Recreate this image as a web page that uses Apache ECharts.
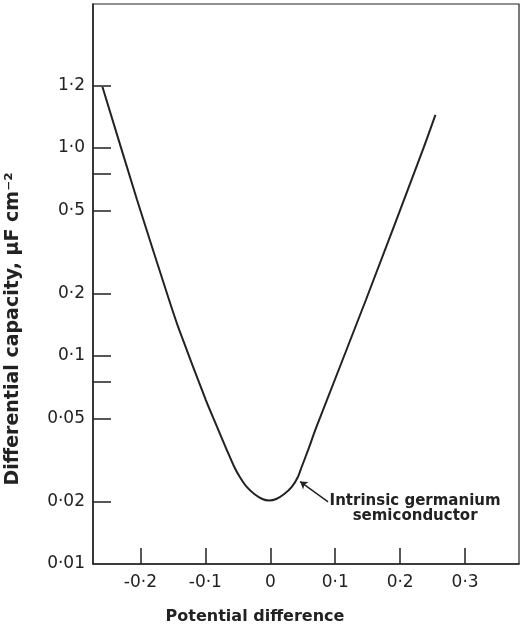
<!DOCTYPE html>
<html><head><meta charset="utf-8">
<script src="https://cdn.jsdelivr.net/npm/echarts@6/dist/echarts.min.js"></script>
<style>html,body{margin:0;padding:0;background:#fff}#c{width:522px;height:629px}</style>
</head><body><div id="c"></div>
<script>
// Data (potential difference, differential capacity µF cm^-2)
const potential = [-0.2585, -0.2051, -0.1558, -0.1402, -0.0992, -0.0831, -0.0669, -0.0554, -0.0469, -0.0362, -0.0246, -0.0123, -0.002, 0.0092, 0.0215, 0.0331, 0.0425, 0.0483, 0.0577, 0.0711, 0.1472, 0.2349, 0.2543];
const capacity  = [1.97, 0.562, 0.1858, 0.1334, 0.0614, 0.0465, 0.0353, 0.02926, 0.0262, 0.02346, 0.0217, 0.02053, 0.0202, 0.02053, 0.0217, 0.02346, 0.0262, 0.02926, 0.03494, 0.04557, 0.1858, 0.978, 1.441];
const xTicks = [-0.2, -0.1, 0, 0.1, 0.2, 0.3];
const xTickLabels = ['-0·2', '-0·1', '0', '0·1', '0·2', '0·3'];
const yTicks = [0.02, 0.05, 0.075, 0.1, 0.2, 0.5, 0.75, 1.0, 2.0];
const yLabelValues = [0.01, 0.02, 0.05, 0.1, 0.2, 0.5, 1.0, 2.0];
const yTickLabels = ['0·01', '0·02', '0·05', '0·1', '0·2', '0·5', '1·0', '1·2'];
const arrowFrom = [0.089, 0.0199];
const arrowTo = [0.046, 0.0249];
const noteAt = [0.223, 0.0185];
const noteText = 'Intrinsic germanium\nsemiconductor';

const ink = '#222';
const font = 'DejaVu Sans';
const chart = echarts.init(document.getElementById('c'));
function lab(v, vals, labels) {
  for (let i = 0; i < vals.length; i++) if (Math.abs(vals[i] - v) < 1e-6 * Math.max(1, Math.abs(v)) + 1e-9) return labels[i];
  return '';
}
chart.setOption({
  animation: false,
  grid: { left: 93, top: 4, right: 3, bottom: 65, outerBoundsMode: 'none', containLabel: false, show: true, borderColor: ink, borderWidth: 1.2 },
  xAxis: {
    type: 'value', min: -0.273, max: 0.383,
    splitLine: { show: false },
    axisLine: { onZero: false, lineStyle: { color: ink, width: 1.5 } },
    axisTick: { inside: true, length: 16, lineStyle: { color: ink, width: 1.5 }, customValues: xTicks },
    axisLabel: { customValues: xTicks, margin: 10, color: ink, fontFamily: font, fontSize: 17,
      formatter: v => lab(v, xTicks, xTickLabels) },
    name: 'Potential difference', nameLocation: 'middle', nameGap: 45,
    nameTextStyle: { color: ink, fontFamily: font, fontSize: 16, fontWeight: 'bold', padding: [0, 102, 0, 0] }
  },
  yAxis: {
    type: 'log', min: 0.01, max: 4.92, logBase: 10,
    splitLine: { show: false },
    axisLine: { onZero: false, lineStyle: { color: ink, width: 1.5 } },
    axisTick: { inside: true, length: 18, lineStyle: { color: ink, width: 1.5 }, customValues: yTicks },
    axisLabel: { customValues: yLabelValues, margin: 8, color: ink, fontFamily: font, fontSize: 17,
      formatter: v => lab(v, yLabelValues, yTickLabels) },
    name: 'Differential capacity, μF cm⁻²', nameLocation: 'middle', nameGap: 70, nameRotate: 90,
    nameTextStyle: { color: ink, fontFamily: font, fontSize: 19, fontWeight: 'bold', padding: [0, 90, 0, 0] }
  },
  series: [{
    type: 'line', smooth: 0.25, symbol: 'none',
    lineStyle: { color: ink, width: 2 },
    data: potential.map((x, i) => [x, capacity[i]]),
    markLine: {
      silent: true, symbol: ['none', 'arrow'], symbolSize: 7,
      lineStyle: { color: ink, width: 1.5, type: 'solid' }, label: { show: false },
      data: [[{ coord: arrowFrom }, { coord: arrowTo }]]
    },
    markPoint: {
      silent: true, symbol: 'circle', symbolSize: 1, itemStyle: { color: 'rgba(0,0,0,0)' },
      label: { show: true, position: 'inside', formatter: noteText, color: ink, fontFamily: font, fontSize: 15, fontWeight: 'bold', lineHeight: 15, align: 'center' },
      data: [{ coord: noteAt }]
    }
  }]
});
</script></body></html>
